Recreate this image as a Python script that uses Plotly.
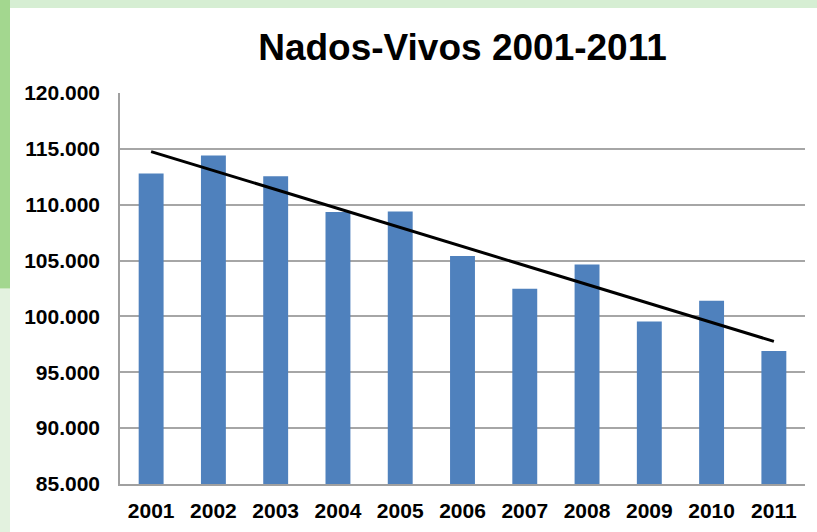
import numpy as np
import plotly.graph_objects as go

years = ["2001", "2002", "2003", "2004", "2005", "2006", "2007", "2008", "2009", "2010", "2011"]
births = [112800, 114400, 112550, 109350, 109400, 105420, 102470, 104650, 99540, 101400, 96900]
y_ticks = [85000, 90000, 95000, 100000, 105000, 110000, 115000, 120000]
y_tick_labels = ["85.000", "90.000", "95.000", "100.000", "105.000", "110.000", "115.000", "120.000"]
title_text = "Nados-Vivos 2001-2011"

# linear trend line fitted from the data
xi = np.arange(len(years))
slope, intercept = np.polyfit(xi, births, 1)
trend = slope * xi + intercept

fig = go.Figure()
fig.add_trace(go.Bar(x=years, y=births, marker=dict(color="#4F81BD", line=dict(width=0)),
                     width=0.4, showlegend=False))
fig.add_trace(go.Scatter(x=years, y=trend, mode="lines", line=dict(color="black", width=3),
                         showlegend=False))

font_family = "Liberation Sans, Arial, sans-serif"
fig.update_layout(
    width=817, height=532,
    margin=dict(l=120, r=12, t=93, b=48),
    paper_bgcolor="white", plot_bgcolor="white",
    title=dict(text="<b>" + title_text + "</b>", x=0.5, xref="paper", xanchor="center",
               y=1 - 47 / 532, yref="container", yanchor="middle",
               font=dict(family="Liberation Sans Narrow, Arial Narrow, Liberation Sans, sans-serif",
                         size=37, color="black")),
    xaxis=dict(type="category", range=[-0.5, 10.5], showgrid=False, showline=True,
               linecolor="#A0A0A0", linewidth=1.5, ticks="", ticklabelstandoff=7,
               automargin=False,
               tickfont=dict(family=font_family, size=21, color="black", weight="bold")),
    yaxis=dict(range=[85000, 120000], tickvals=y_ticks, ticktext=y_tick_labels,
               showgrid=True, gridcolor="#A6A6A6", gridwidth=1.5, showline=True,
               linecolor="#A0A0A0", linewidth=1.5, ticks="", ticklabelstandoff=14,
               zeroline=False, automargin=False,
               tickfont=dict(family=font_family, size=21, color="black", weight="bold")),
    bargap=0.6,
    shapes=[
        dict(type="rect", xref="paper", yref="paper", x0=-120/685, x1=-110/685, y0=-48/391, y1=0.5,
             fillcolor="#e3f2df", line=dict(width=0), layer="below"),
        dict(type="rect", xref="paper", yref="paper", x0=-120/685, x1=-110/685, y0=0.5, y1=1 + 93/391,
             fillcolor="#a3d78f", line=dict(width=0), layer="below"),
        dict(type="rect", xref="paper", yref="paper", x0=-110/685, x1=1 + 12/685, y0=1 + 85/391,
             y1=1 + 93/391, fillcolor="#d6eed3", line=dict(width=0), layer="below"),
    ],
)

fig.write_html("out.html", config={"displayModeBar": False},
               post_script="document.body.style.margin='0';")
